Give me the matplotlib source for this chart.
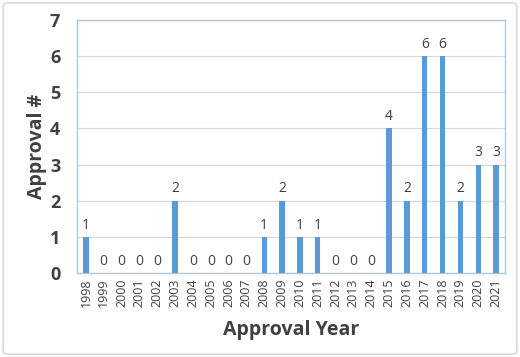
import numpy as np
import matplotlib.pyplot as plt
from matplotlib.patches import FancyBboxPatch

# -- Data --
years = [str(y) for y in range(1998, 2022)]
approvals = [1, 0, 0, 0, 0, 2, 0, 0, 0, 0, 1, 2, 1, 1, 0, 0, 0, 4, 2, 6, 6, 2, 3, 3]

plt.rcParams['font.family'] = ['Open Sans', 'DejaVu Sans']
text_col = '#404040'
bar_col = '#5B9BD5'

fig = plt.figure(figsize=(5.2, 3.57), dpi=100)
ax = fig.add_axes([77/520, 1 - 273/357, 428/520, 253/357])

x = np.arange(len(years))
ax.bar(x, approvals, width=0.3, color=bar_col, zorder=3)
for xi, v in zip(x, approvals):
    ax.text(xi, v + 0.12, str(v), ha='center', va='bottom', fontsize=10, color=text_col)

ax.set_xlim(-0.5, len(years) - 0.5)
ax.set_ylim(0, 7)
ax.set_yticks(range(0, 8))
ax.yaxis.grid(True, color='#d9d9d9', linewidth=0.9, zorder=0)
ax.set_xticks(x)
ax.set_xticklabels(years, rotation=90, fontsize=9, color=text_col)
ax.tick_params(axis='both', length=0)
ax.tick_params(axis='x', pad=4)
ax.tick_params(axis='y', pad=12)
for lbl in ax.get_yticklabels():
    lbl.set_fontsize(13)
    lbl.set_fontweight('bold')
    lbl.set_color(text_col)
for s in ax.spines.values():
    s.set_color('#b4c7d7')
    s.set_linewidth(1.0)

ax.set_xlabel('Approval Year', fontsize=14, fontweight='bold', color=text_col, labelpad=9)
ax.set_ylabel('Approval #', fontsize=14, fontweight='bold', color=text_col, labelpad=2)

# -- Outer rounded border --
border = FancyBboxPatch((0.006, 0.008), 0.988, 0.984, boxstyle='round,pad=0,rounding_size=0.01',
                        transform=fig.transFigure, fill=False, edgecolor='#d9d9d9', linewidth=1.2)
fig.patches.append(border)

fig.savefig('out.png', dpi=100)
